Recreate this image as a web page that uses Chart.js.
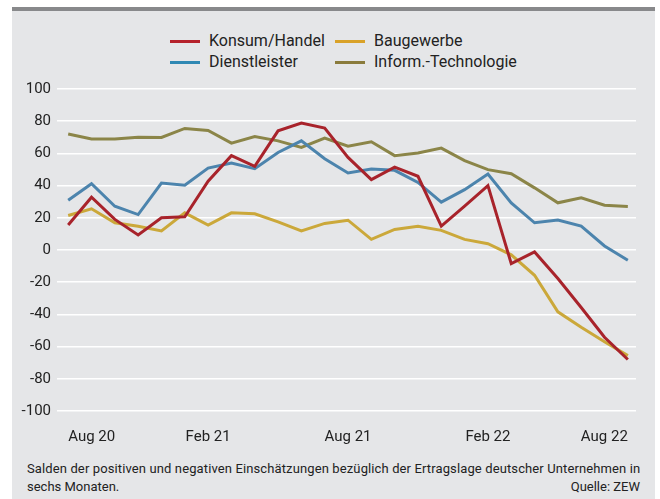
<!DOCTYPE html>
<html>
<head>
<meta charset="utf-8">
<script src="https://cdn.jsdelivr.net/npm/chart.js@4"></script>
<style>
  body { margin: 0; background: #fff; font-family: Roboto, sans-serif; color: #222; }
  #wrap { position: relative; width: 660px; height: 499px; overflow: hidden; }
  #panel { position: absolute; left: 12px; top: 11px; width: 643px; height: 488px; background: #e5e6e8; }
  #topbar { position: absolute; left: 12px; top: 7px; width: 643px; height: 4px; background: #88898b; }
  #chart-box { position: absolute; left: 0; top: 0; width: 660px; height: 450px; }
  .legend-item { position: absolute; font-size: 16px; line-height: 20px; white-space: nowrap; }
  .legend-item span.sw { position: absolute; left: -39px; top: 9px; width: 30px; height: 3px; }
  #note { position: absolute; left: 27px; top: 460px; width: 613px; font-size: 13px; line-height: 17.5px; }
  #note .first { letter-spacing: 0.12px; white-space: nowrap; }
  #note .src { float: right; }
</style>
</head>
<body>
<div id="wrap">
  <div id="topbar"></div>
  <div id="panel"></div>
  <div id="legend"></div>
  <div id="chart-box"><canvas id="zewChart"></canvas></div>
  <div id="note">
    <div class="first">Salden der positiven und negativen Einschätzungen bezüglich der Ertragslage deutscher Unternehmen in</div>
    <div>sechs Monaten.<span class="src">Quelle: ZEW</span></div>
  </div>
</div>
<script>
// months Aug 20 .. Aug 22
const months = ['Aug 20', 'Sep 20', 'Okt 20', 'Nov 20', 'Dez 20', 'Jan 21', 'Feb 21', 'Mrz 21', 'Apr 21',
  'Mai 21', 'Jun 21', 'Jul 21', 'Aug 21', 'Sep 21', 'Okt 21', 'Nov 21', 'Dez 21', 'Jan 22', 'Feb 22',
  'Mrz 22', 'Apr 22', 'Mai 22', 'Jun 22', 'Jul 22', 'Aug 22'];
const tickMonths = ['Aug 20', 'Feb 21', 'Aug 21', 'Feb 22', 'Aug 22'];

const konsum = [15.5, 32.8, 19, 9.3, 20, 20.6, 42.7, 58.6, 52, 74, 78.8, 75.7, 57.5,
  43.7, 51.5, 45.8, 14.8, 27.2, 40, -8.5, -1.2, -17.7, -35.7, -54.2, -68];
const dienst = [30.9, 41.2, 27.2, 22, 41.6, 40.2, 50.9, 54, 50.5, 60.6, 67.8, 56.7, 47.8,
  50.3, 49.5, 42, 29.7, 37.5, 47.2, 29.3, 16.9, 18.6, 14.8, 2.5, -6.4];
const bau = [21.4, 25.6, 16.9, 14.8, 11.8, 23.1, 15.5, 23.1, 22.5, 17.5, 11.8, 16.5, 18.5,
  6.6, 12.8, 14.8, 12.2, 6.6, 3.9, -3, -15.7, -38.4, -48, -57, -65.6];
const infoTech = [72, 68.9, 68.9, 70, 69.9, 75.5, 74.2, 66.4, 70.5, 67.8, 63.7, 69.5, 64.5,
  67.2, 58.6, 60.2, 63.3, 55.5, 49.9, 47.4, 38.6, 29.3, 32.4, 27.8, 27];

const yTicks = [100, 80, 60, 40, 20, 0, -20, -40, -60, -80, -100];

const series = [
  { label: 'Konsum/Handel', data: konsum, color: '#a8232b', key: '#b5222b', col: 0, row: 0 },
  { label: 'Dienstleister', data: dienst, color: '#4c84ad', key: '#2f88b3', col: 0, row: 1 },
  { label: 'Baugewerbe', data: bau, color: '#cba83a', key: '#d9a229', col: 1, row: 0 },
  { label: 'Inform.-Technologie', data: infoTech, color: '#8b8548', key: '#8a7b3c', col: 1, row: 1 }
];

// legend (html, two columns)
const legend = document.getElementById('legend');
series.forEach(s => {
  const item = document.createElement('div');
  item.className = 'legend-item';
  item.style.left = (s.col === 0 ? 209 : 374) + 'px';
  item.style.top = (s.row === 0 ? 31 : 52) + 'px';
  item.innerHTML = '<span class="sw" style="background:' + s.key + '"></span>' + s.label;
  legend.appendChild(item);
});

const ctx = document.getElementById('zewChart').getContext('2d');
new Chart(ctx, {
  type: 'line',
  data: {
    datasets: series.map((s, i) => ({
      label: s.label,
      data: s.data.map((v, j) => ({ x: j, y: v })),
      borderColor: s.color,
      backgroundColor: s.color,
      borderWidth: 3,
      pointRadius: 0,
      tension: 0,
      order: i
    }))
  },
  options: {
    responsive: true,
    maintainAspectRatio: false,
    animation: false,
    layout: { padding: { left: 0, right: 24, top: 89, bottom: 0 } },
    plugins: {
      legend: { display: false },
      tooltip: { enabled: false }
    },
    scales: {
      x: {
        type: 'linear',
        min: -0.48,
        max: 24.35,
        afterBuildTicks: function(scale) {
          scale.ticks = tickMonths.map(m => ({ value: months.indexOf(m) }));
        },
        afterFit: function(scale) { scale.height = 39; },
        grid: { display: false, drawTicks: false },
        border: { display: false },
        ticks: {
          align: 'inner',
          padding: 17,
          maxRotation: 0,
          color: '#222',
          font: { family: 'Roboto', size: 15 },
          callback: function(value) { return months[value]; }
        }
      },
      y: {
        min: -100,
        max: 100,
        afterBuildTicks: function(scale) {
          scale.ticks = yTicks.map(v => ({ value: v }));
        },
        afterFit: function(scale) { scale.width = 57; },
        grid: { color: '#ffffff', lineWidth: 1.6, drawTicks: false },
        border: { display: false },
        ticks: {
          padding: 6,
          color: '#222',
          font: { family: 'Roboto', size: 15 }
        }
      }
    }
  }
});
</script>
</body>
</html>
